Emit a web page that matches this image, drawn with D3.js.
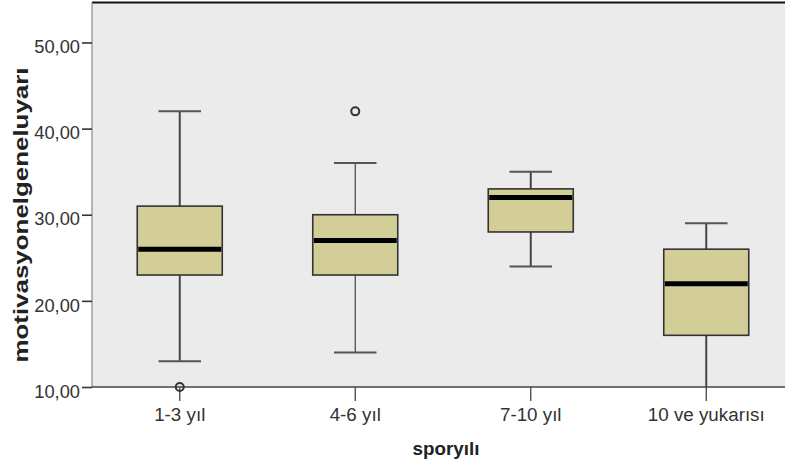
<!DOCTYPE html>
<html>
<head>
<meta charset="utf-8">
<script src="https://cdn.jsdelivr.net/npm/d3@7"></script>
<style>
  html, body { margin: 0; padding: 0; background: #fff; }
  svg { display: block; font-family: "Liberation Sans", Arial, sans-serif; }
</style>
</head>
<body>
<svg id="chart" width="785" height="467"></svg>
<script>
// ---- data ----
const categories = ["1-3 yıl", "4-6 yıl", "7-10 yıl", "10 ve yukarısı"];
const whiskerLow  = [13, 14, 24, 10];
const q1          = [23, 23, 28, 16];
const median      = [26, 27, 32, 22];
const q3          = [31, 30, 33, 26];
const whiskerHigh = [42, 36, 35, 29];
const outliers    = [[10], [42], [], []];
const yTicks      = [10, 20, 30, 40, 50];
const yTitle = "motivasyonelgeneluyarı";
const xTitle = "sporyılı";

// ---- layout ----
const svg = d3.select("#chart");
const W = 785, H = 467;
const mLeft = 92, mTop = 2.5, mBottom = 387, rightExt = 794;

const y = d3.scaleLinear().domain([10, 54.64]).range([mBottom, mTop]);
const x = d3.scaleBand().domain(categories).range([mLeft, rightExt]).paddingInner(0).paddingOuter(0);
const boxW = 85;

// background
svg.append("rect").attr("x", mLeft).attr("y", mTop).attr("width", W - mLeft).attr("height", mBottom - mTop)
  .attr("fill", "#ebebeb");

// top border
svg.append("line").attr("x1", mLeft).attr("x2", W).attr("y1", mTop).attr("y2", mTop)
  .attr("stroke", "#111").attr("stroke-width", 2);

// left border
svg.append("line").attr("x1", mLeft).attr("x2", mLeft).attr("y1", mTop).attr("y2", mBottom)
  .attr("stroke", "#8a8a8a").attr("stroke-width", 1.2);

// y axis
const yAxis = d3.axisLeft(y).tickValues(yTicks).tickSize(10).tickPadding(2)
  .tickFormat(d => d3.format(".2f")(d).replace(".", ","));
const gy = svg.append("g").attr("transform", `translate(${mLeft},0)`).call(yAxis);
gy.select(".domain").remove();
gy.selectAll(".tick line").attr("stroke", "#333").attr("stroke-width", 1.6);
gy.selectAll(".tick text").attr("fill", "#333").attr("font-size", 18.3).attr("dy", "0.72em")
  .attr("y", -3);

// x axis
const xAxis = d3.axisBottom(x).tickSize(14).tickPadding(5);
const gx = svg.append("g").attr("transform", `translate(0,${mBottom})`).call(xAxis);
gx.select(".domain").remove();
gx.selectAll(".tick line").attr("stroke", "#444").attr("stroke-width", 1.3);
gx.selectAll(".tick text").attr("fill", "#333").attr("font-size", 18.8).attr("dy", 0).attr("y", 34);

// bottom axis line
svg.append("line").attr("x1", mLeft).attr("x2", W).attr("y1", mBottom).attr("y2", mBottom)
  .attr("stroke", "#444").attr("stroke-width", 1.6);

// boxes
const data = categories.map((c, i) => ({
  c, lo: whiskerLow[i], q1: q1[i], med: median[i], q3: q3[i], hi: whiskerHigh[i], out: outliers[i]
}));
const whiskerStroke = {"4-6 yıl": 1.2};

const g = svg.append("g");
data.forEach(d => {
  const cx = x(d.c) + x.bandwidth() / 2;
  const sw = whiskerStroke[d.c] || 2;
  // whiskers
  g.append("line").attr("x1", cx).attr("x2", cx).attr("y1", y(d.hi)).attr("y2", y(d.q3))
    .attr("stroke", "#444").attr("stroke-width", sw);
  g.append("line").attr("x1", cx).attr("x2", cx).attr("y1", y(d.q1)).attr("y2", y(d.lo))
    .attr("stroke", "#444").attr("stroke-width", sw);
  // caps
  g.append("line").attr("x1", cx - boxW / 4).attr("x2", cx + boxW / 4).attr("y1", y(d.hi)).attr("y2", y(d.hi))
    .attr("stroke", "#555").attr("stroke-width", 2);
  if (d.lo > 10) {
    g.append("line").attr("x1", cx - boxW / 4).attr("x2", cx + boxW / 4).attr("y1", y(d.lo)).attr("y2", y(d.lo))
      .attr("stroke", "#555").attr("stroke-width", 2);
  }
  // box
  g.append("rect").attr("x", cx - boxW / 2).attr("y", y(d.q3)).attr("width", boxW)
    .attr("height", y(d.q1) - y(d.q3))
    .attr("fill", "#d3ce97").attr("stroke", "#333").attr("stroke-width", 1.6);
  // median
  g.append("line").attr("x1", cx - boxW / 2 + 1).attr("x2", cx + boxW / 2 - 1)
    .attr("y1", y(d.med)).attr("y2", y(d.med))
    .attr("stroke", "#000").attr("stroke-width", 5);
  // outliers
  d.out.forEach(o => {
    g.append("circle").attr("cx", cx).attr("cy", y(o)).attr("r", 4)
      .attr("fill", "none").attr("stroke", "#333").attr("stroke-width", 2);
  });
});

// titles
svg.append("text").attr("transform", `translate(28,215) rotate(-90)`)
  .attr("text-anchor", "middle").attr("font-weight", "bold").attr("font-size", 20)
  .attr("fill", "#222").attr("textLength", 295).attr("lengthAdjust", "spacingAndGlyphs")
  .text(yTitle);
svg.append("text").attr("x", 446).attr("y", 455)
  .attr("text-anchor", "middle").attr("font-weight", "bold").attr("font-size", 18.8)
  .attr("fill", "#222").text(xTitle);
</script>
</body>
</html>
